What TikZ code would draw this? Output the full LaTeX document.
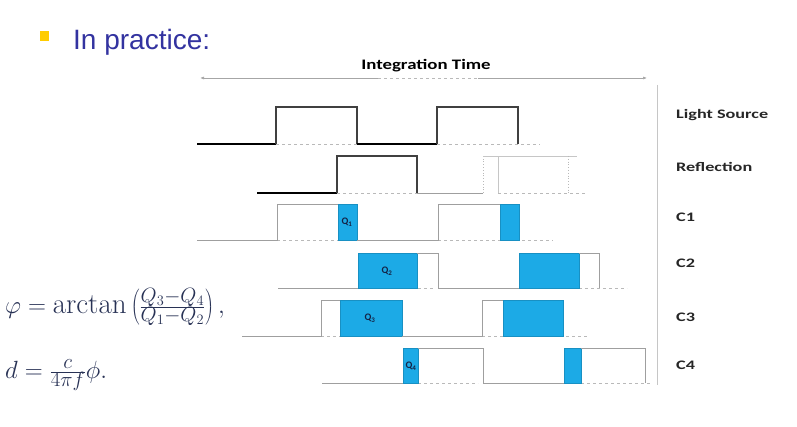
\documentclass[tikz,border=0pt]{standalone}
\usepackage{fontspec}
\usepackage{graphicx}
\usetikzlibrary{arrows.meta}
\newfontfamily\arialf{Liberation Sans}
\newfontfamily\calib{Carlito}
\definecolor{titleblue}{RGB}{51,51,160}
\definecolor{bulletgold}{RGB}{255,204,0}
\definecolor{qblue}{RGB}{28,170,230}
\definecolor{formulacol}{RGB}{40,50,85}
\definecolor{qtext}{RGB}{20,35,70}
\tikzset{
  lowline/.style={draw=black, line width=2pt},
  highline/.style={draw=black!75, line width=1.3pt},
  winline/.style={draw=gray!75, line width=0.8pt},
  lightline/.style={draw=gray!45, line width=0.8pt},
  dotline/.style={draw=gray!55, line width=0.8pt, dotted},
  dashbase/.style={draw=gray!55, line width=0.8pt, dash pattern=on 3pt off 3pt},
  qbox/.style={fill=qblue, draw=qblue!85!black, line width=0.5pt},
  rowlabel/.style={anchor=west, inner sep=0pt, font=\calib\bfseries\fontsize{13}{15}\selectfont, text=black!85},
  qlabel/.style={inner sep=0pt, font=\calib\bfseries\fontsize{10}{11}\selectfont, text=qtext},
  formula/.style={anchor=west, inner sep=0pt, text=formulacol, font=\fontsize{29}{34}\selectfont}
}
\begin{document}
\begin{tikzpicture}[x=1pt,y=-1pt]
\fill[white] (0,0) rectangle (797,427);
\useasboundingbox (0,0) rectangle (797,427);

% title
\fill[bulletgold] (40,31) rectangle (49,41);
\node[anchor=base west, inner sep=0pt, text=titleblue, font=\arialf\fontsize{28}{32}\selectfont] (title) at (73,50) {In practice:};

% integration time
\node[inner sep=0pt, font=\calib\bfseries\fontsize{14.5}{17}\selectfont] (itime) at (426,66) {\scalebox{1.3}[1]{Integration Time}};
\coordinate (tL) at (200,78);
\coordinate (tR) at (647,78);
\draw[gray!70, line width=0.7pt, {Latex[length=4pt,width=3pt]}-{Latex[length=4pt,width=3pt]}] (tL) -- (tR);
\draw[white, line width=2pt] (378,78) -- (478,78);
\draw[dashbase] (378,78) -- (478,78);

% separator
\draw[lightline] (657,85) -- (657,385);

% row labels
\node[rowlabel] (lLight) at (676,115) {\scalebox{1.4}[1]{Light Source}};
\node[rowlabel] (lRefl) at (676,167) {\scalebox{1.4}[1]{Reflection}};
\node[rowlabel] (lC1) at (676,217) {\scalebox{1.4}[1]{C1}};
\node[rowlabel] (lC2) at (676,263) {\scalebox{1.4}[1]{C2}};
\node[rowlabel] (lC3) at (676,317) {\scalebox{1.4}[1]{C3}};
\node[rowlabel] (lC4) at (676,365) {\scalebox{1.4}[1]{C4}};

% Light source (low 144, high 107)
\draw[dashbase] (276,144) -- (357,144);
\draw[dashbase] (437,144) -- (540,144);
\draw[lowline] (197,144) -- (276,144);
\draw[highline] (276,144) -- (276,107) -- (357,107) -- (357,144);
\draw[lowline] (357,144) -- (437,144);
\draw[highline] (437,144) -- (437,107) -- (518,107) -- (518,144);

% Reflection (low 193, high 156)
\draw[dashbase] (337,193) -- (417,193);
\draw[dashbase] (498,193) -- (585,193);
\draw[lowline] (257,193) -- (337,193);
\draw[highline] (337,193) -- (337,156) -- (417,156) -- (417,193);
\draw[winline] (417,193) -- (483,193);
\draw[dotline] (483,193) -- (483,156);
\draw[lightline] (498,193) -- (498,156);
\draw[lightline] (483,156) -- (577,156);
\draw[dotline] (568,156) -- (568,193);

% C1 (low 240, high 204)
\draw[dashbase] (277,240) -- (338,240);
\draw[dashbase] (438,240) -- (553,240);
\fill[qbox] (338,204) rectangle (357,240);
\fill[qbox] (500,204) rectangle (519,240);
\draw[winline] (197,240) -- (277,240) -- (277,204) -- (338,204);
\draw[winline] (357,240) -- (438,240) -- (438,204) -- (500,204);
\node[qlabel] (q1) at (347,222) {Q\textsubscript{1}};

% C2 (low 288, high 253)
\draw[dashbase] (358,288) -- (433,288);
\draw[dashbase] (519,288) -- (627,288);
\fill[qbox] (358,253) rectangle (417,288);
\fill[qbox] (519,253) rectangle (579,288);
\draw[winline] (278,288) -- (358,288);
\draw[winline] (417,253) -- (438,253) -- (438,288) -- (519,288);
\draw[winline] (579,253) -- (599,253) -- (599,288);
\node[qlabel] (q2) at (387,271) {Q\textsubscript{2}};

% C3 (low 336, high 300)
\draw[dashbase] (321,336) -- (340,336);
\draw[dashbase] (482,336) -- (588,336);
\fill[qbox] (340,300) rectangle (402,336);
\fill[qbox] (503,300) rectangle (563,336);
\draw[winline] (242,336) -- (321,336) -- (321,300) -- (340,300);
\draw[winline] (402,336) -- (482,336) -- (482,300) -- (503,300);
\node[qlabel] (q3) at (370,318) {Q\textsubscript{3}};

% C4 (low 383, high 348)
\draw[dashbase] (418,383) -- (478,383);
\draw[dashbase] (581,383) -- (650,383);
\fill[qbox] (403,348) rectangle (418,383);
\fill[qbox] (564,348) rectangle (581,383);
\draw[winline] (322,383) -- (403,383);
\draw[winline] (418,348) -- (483,348) -- (483,383) -- (564,383);
\draw[winline] (581,348) -- (645,348) -- (645,383);
\node[qlabel] (q4) at (411,366) {Q\textsubscript{4}};

% formulas
\node[formula] (f1) at (5,307) {$\varphi = \arctan\left(\frac{Q_3-Q_4}{Q_1-Q_2}\right),$};
\node[formula, anchor=base west] (f2) at (5,378) {$d = \frac{c}{4\pi f}\phi.$};
\end{tikzpicture}
\end{document}
